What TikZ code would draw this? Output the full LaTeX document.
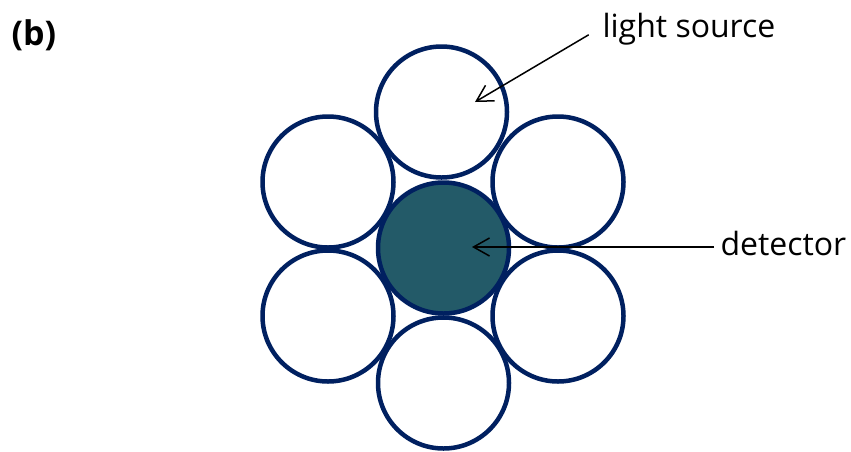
\documentclass[tikz,border=0pt]{standalone}
\usepackage{fontspec}
\setmainfont{Open Sans}
\usetikzlibrary{arrows.meta}
\definecolor{fibreline}{HTML}{002060}
\definecolor{fibrefill}{HTML}{235A68}

\begin{document}
\begin{tikzpicture}[x=1pt, y=-1pt, every node/.style={font=\fontsize{32}{38}\selectfont}, >={Straight Barb[length=16pt, width=18pt]},
	fibre/.style={circle, draw=fibreline, line width=4.5pt, fill=white, minimum size=131pt, inner sep=0pt}]
	\useasboundingbox (0,0) rectangle (851,451);
	\node[fibre] (top) at (441.5,112) {};
	\node[fibre] (upleft) at (328,182) {};
	\node[fibre] (upright) at (558,182) {};
	\node[fibre] (lowleft) at (328,316) {};
	\node[fibre] (lowright) at (558,316) {};
	\node[fibre] (bottom) at (443.5,383) {};
	\node[fibre, fill=fibrefill] (core) at (443.5,248) {};
	\node[anchor=base west] (sourcelbl) at (599,37) {light source};
	\node[anchor=base west] (detlbl) at (717,255) {detector};
	\node[anchor=base west, font=\fontsize{34}{40}\selectfont\bfseries] (panel) at (8,45) {(b)};
	\coordinate (sourcept) at (475,102);
	\coordinate (detpt) at (472,247);
	\draw[->, line width=1.5pt, shorten <=12pt] (sourcelbl.west) -- (sourcept);
	\draw[->, line width=1.5pt, shorten <=3pt] (detlbl.west |- detpt) -- (detpt);
\end{tikzpicture}
\end{document}
